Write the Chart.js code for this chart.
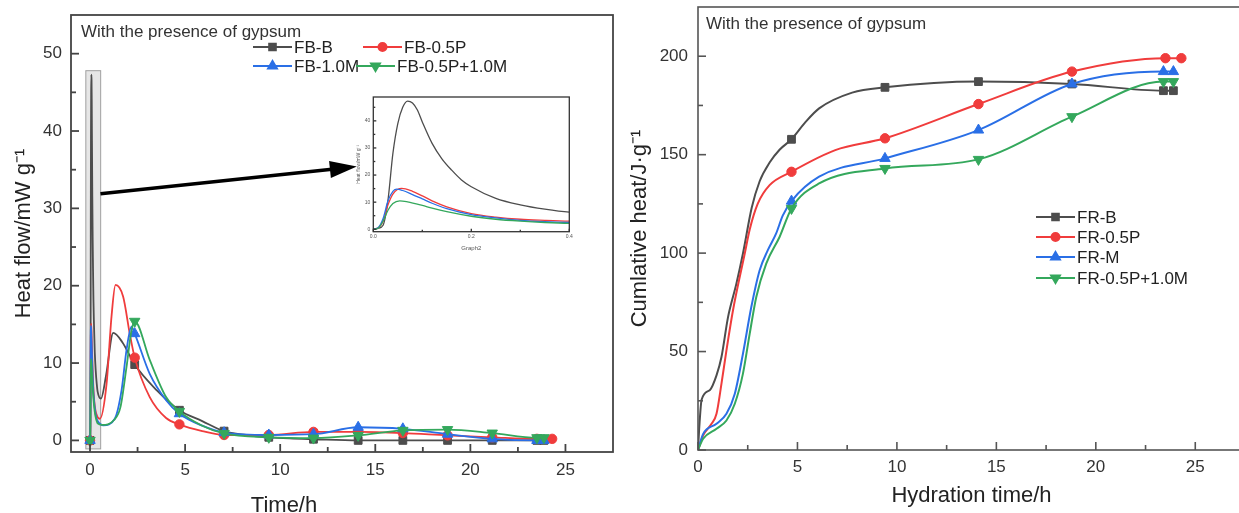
<!DOCTYPE html>
<html>
<head>
<meta charset="utf-8">
<script src="https://cdn.jsdelivr.net/npm/chart.js@4.4.1/dist/chart.umd.min.js"></script>
<style>
  html, body { margin: 0; padding: 0; background: #fff; overflow: hidden; }
  #page { position: relative; width: 1239px; height: 513px; overflow: hidden; }
  .box { position: absolute; top: 0; }
  #flowBox { left: 0; }
  #insetBox { left: 340px; top: 90px; }
  #cumBox { left: 620px; }
</style>
</head>
<body>
<div id="page">
  <div class="box" id="flowBox"><canvas id="flowChart" width="620" height="513"></canvas></div>
  <div class="box" id="insetBox"><canvas id="insetChart" width="240" height="165"></canvas></div>
  <div class="box" id="cumBox"><canvas id="cumChart" width="632" height="513"></canvas></div>
</div>
<script>
const FONT = "'Liberation Sans', Arial, sans-serif";

// ---- heat flow (left panel), time in h, mW/g ----
const fbBTime = [0, 0.01, 0.02, 0.03, 0.04, 0.05, 0.06, 0.07, 0.08, 0.09, 0.1, 0.12, 0.14, 0.16, 0.18, 0.2, 0.25, 0.3, 0.35, 0.4, 0.575, 0.85, 1.22, 1.7, 2.35, 3.5, 4.7, 5.9, 7.05, 8.2, 9.4, 10.5, 11.75, 14.1, 16.45, 18.8, 21.15, 23.5, 23.87];
const fbBFlow = [0, 0.4, 1.5, 10.8, 28, 39, 45, 47.3, 46.6, 44, 39.6, 31.7, 26, 21.8, 18.2, 15.7, 11.4, 9, 7.4, 6.3, 5.4, 8.5, 13.9, 12.7, 9.8, 6.5, 3.9, 2.5, 1.2, 0.7, 0.4, 0.25, 0.15, 0, 0, 0, 0, 0, 0];

const fbPTime = [0, 0.01, 0.02, 0.03, 0.04, 0.058, 0.08, 0.1, 0.12, 0.15, 0.2, 0.25, 0.3, 0.35, 0.4, 0.52, 0.87, 1.13, 1.34, 1.74, 2.09, 2.35, 3.14, 4.0, 4.7, 5.9, 7.05, 9.4, 11.75, 14.1, 16.45, 18.8, 21.15, 23.5, 24.3];
const fbPFlow = [0, 0.5, 3, 9, 13, 15.1, 14, 12.3, 10.5, 8.3, 5.8, 4.5, 3.7, 3.3, 3, 2.8, 7.3, 16, 20.1, 18.6, 13.8, 10.7, 5.6, 2.9, 2.07, 1.2, 0.7, 0.7, 1.1, 1.1, 0.95, 0.65, 0.4, 0.2, 0.2];

const fbMTime = [0, 0.01, 0.02, 0.03, 0.04, 0.048, 0.06, 0.08, 0.1, 0.12, 0.15, 0.2, 0.25, 0.3, 0.35, 0.4, 0.7, 1.3, 1.66, 1.92, 2.18, 2.35, 3.14, 4.0, 4.7, 5.9, 7.05, 9.4, 11.75, 14.1, 16.45, 18.8, 21.15, 23.5, 23.87];
const fbMFlow = [0, 0.6, 4, 10.5, 14, 14.8, 14.3, 12.8, 11.2, 9.6, 7.6, 5.4, 4.2, 3.3, 2.8, 2.5, 1.95, 2.8, 6.5, 11.7, 14.7, 13.8, 8.6, 5.2, 3.45, 1.9, 1.0, 0.7, 0.8, 1.7, 1.5, 0.8, 0.2, 0, 0];

const fbPMTime = [0, 0.01, 0.02, 0.03, 0.04, 0.054, 0.07, 0.1, 0.12, 0.15, 0.2, 0.25, 0.3, 0.35, 0.4, 0.63, 1.25, 1.6, 1.92, 2.18, 2.35, 3.14, 4.0, 4.7, 5.9, 7.05, 9.4, 11.75, 14.1, 16.45, 18.8, 21.15, 23.5, 23.87];
const fbPMFlow = [0, 0.4, 3, 7, 9.5, 10.5, 10.1, 8.8, 7.8, 6.5, 4.8, 3.7, 3, 2.5, 2.2, 2.0, 2.6, 4.3, 9.5, 14.2, 15.4, 10.4, 5.6, 3.75, 1.9, 0.9, 0.4, 0.3, 0.65, 1.3, 1.4, 0.95, 0.35, 0.35];

const flowMarkTimes = [0, 2.35, 4.7, 7.05, 9.4, 11.75, 14.1, 16.45, 18.8, 21.15, 23.5, 23.87, 24.3];
const flowXTicks = [0, 5, 10, 15, 20, 25];
const flowYTicks = [0, 10, 20, 30, 40, 50];
const insetXTicks = [0, 0.2, 0.4];
const insetYTicks = [0, 10, 20, 30, 40];

// ---- cumulative heat (right panel), J/g ----
const frBTime = [0, 0.08, 0.18, 0.6, 0.93, 1.18, 1.51, 1.93, 2.26, 2.7, 3.1, 3.6, 4.1, 4.7, 5.4, 6.09, 7.75, 9.4, 14.1, 18.8, 23.4, 23.9];
const frBHeat = [0, 14, 25.5, 30.5, 37.9, 47.2, 67.5, 84.5, 99.8, 123, 136.5, 146, 152.5, 157.8, 166.5, 173.5, 181.5, 184.2, 187.1, 185.9, 182.5, 182.5];

const frPTime = [0, 0.26, 0.68, 0.93, 1.18, 1.43, 1.76, 2.35, 2.6, 3.0, 3.6, 4.7, 6.9, 9.4, 14.1, 18.8, 23.5, 24.3];
const frPHeat = [0, 7.4, 13.3, 18.4, 33.7, 50.6, 71, 99.8, 112, 125, 134.5, 141.3, 152.3, 158.3, 175.7, 192.2, 199, 199];

const frMTime = [0, 0.26, 0.93, 1.43, 1.85, 2.26, 2.68, 3.1, 3.51, 3.93, 4.26, 4.7, 6.09, 9.4, 14.1, 18.8, 23.4, 23.9];
const frMHeat = [0, 8.2, 13.3, 18.4, 28.6, 48.9, 72.6, 91.3, 101.5, 110, 119, 126.4, 138.8, 148.1, 162.5, 185.9, 192.2, 192.2];

const frPMTime = [0, 0.26, 0.93, 1.43, 1.85, 2.26, 2.6, 2.93, 3.43, 4.1, 4.7, 6.09, 9.4, 14.1, 18.8, 23.4, 23.9];
const frPMHeat = [0, 5.7, 10.8, 15, 23.5, 38.8, 59.1, 77.7, 94.7, 108.2, 122.7, 135.4, 143, 147.6, 169.3, 187.1, 187.1];

const cumMarkTimes = [4.7, 9.4, 14.1, 18.8, 23.4, 23.5, 23.9, 24.3];
const cumXTicks = [0, 5, 10, 15, 20, 25];
const cumYTicks = [0, 50, 100, 150, 200];

// marker look per series (square, circle, up triangle, down triangle)
const seriesStyle = [
  {color: '#4d4d4d', style: 'rect', radius: 5.5, rotation: 0},
  {color: '#f03c3c', style: 'circle', radius: 4.7, rotation: 0},
  {color: '#2a6fe6', style: 'triangle', radius: 6, rotation: 0},
  {color: '#34a85c', style: 'triangle', radius: 6, rotation: 180}
];

function makeSet(label, times, vals, i, marks, width) {
  const st = seriesStyle[i];
  return {
    label: label,
    data: times.map((t, k) => ({x: t, y: vals[k]})),
    borderColor: st.color,
    backgroundColor: st.color,
    borderWidth: width,
    pointStyle: st.style,
    pointRotation: st.rotation,
    pointBackgroundColor: st.color,
    pointBorderColor: st.color,
    pointBorderWidth: 1,
    pointRadius: c => (marks && marks.includes(c.raw.x)) ? st.radius : 0,
    cubicInterpolationMode: 'monotone',
    fill: false,
    order: -i
  };
}

function fixedTicks(arr) {
  return s => { s.ticks = arr.map(v => ({value: v})); };
}

// force axis box size and drop the edge-label padding chart.js adds
function fitBox(w, h) {
  return s => {
    if (w != null) s.width = w;
    if (h != null) s.height = h;
    s.paddingTop = 0; s.paddingBottom = 0; s.paddingLeft = 0; s.paddingRight = 0;
  };
}

// frame, inward ticks, note, legend, arrow, highlight box
const panelDecor = {
  id: 'panelDecor',
  beforeDatasetsDraw(chart, args, o) {
    if (!o.box) return;
    const {ctx, scales: {x, y}} = chart;
    const l = x.getPixelForValue(o.box.x0), r = x.getPixelForValue(o.box.x1);
    const t = y.getPixelForValue(o.box.y1), b = y.getPixelForValue(o.box.y0);
    ctx.save();
    ctx.fillStyle = 'rgba(200,200,200,0.45)';
    ctx.strokeStyle = '#a0a0a0';
    ctx.lineWidth = 1;
    ctx.fillRect(l, t, r - l, b - t);
    ctx.strokeRect(l, t, r - l, b - t);
    ctx.restore();
  },
  afterDatasetsDraw(chart, args, o) {
    const {ctx, chartArea: a, scales: {x, y}} = chart;
    ctx.save();
    ctx.strokeStyle = o.frameColor;
    ctx.lineWidth = o.frameWidth;
    ctx.strokeRect(a.left, a.top, a.right - a.left, a.bottom - a.top);

    // ticks pointing into the plot
    [[x, true], [y, false]].forEach(([s, horiz]) => {
      const vals = s.ticks.map(t => t.value);
      const step = vals[1] - vals[0];
      const minor = vals.map(v => v + step / 2).concat([vals[0] - step / 2])
        .filter(v => v > s.min + 1e-9 && v < s.max - 1e-9);
      const tick = (v, len) => {
        const p = s.getPixelForValue(v);
        ctx.beginPath();
        if (horiz) { ctx.moveTo(p, a.bottom); ctx.lineTo(p, a.bottom - len); }
        else { ctx.moveTo(a.left, p); ctx.lineTo(a.left + len, p); }
        ctx.stroke();
      };
      vals.forEach(v => tick(v, o.tickLen));
      minor.forEach(v => tick(v, o.minorLen));
    });

    if (o.arrow) {
      const x0 = x.getPixelForValue(o.arrow.from[0]), y0 = y.getPixelForValue(o.arrow.from[1]);
      const x1 = x.getPixelForValue(o.arrow.to[0]), y1 = y.getPixelForValue(o.arrow.to[1]);
      const ang = Math.atan2(y1 - y0, x1 - x0);
      const hl = 27, hw = 8.5;
      const bx = x1 - hl * Math.cos(ang), by = y1 - hl * Math.sin(ang);
      ctx.strokeStyle = '#000';
      ctx.fillStyle = '#000';
      ctx.lineWidth = 3.5;
      ctx.beginPath(); ctx.moveTo(x0, y0); ctx.lineTo(bx + 2 * Math.cos(ang), by + 2 * Math.sin(ang)); ctx.stroke();
      ctx.beginPath();
      ctx.moveTo(x1, y1);
      ctx.lineTo(bx + hw * Math.sin(ang), by - hw * Math.cos(ang));
      ctx.lineTo(bx - hw * Math.sin(ang), by + hw * Math.cos(ang));
      ctx.closePath();
      ctx.fill();
    }

    if (o.note) {
      ctx.fillStyle = '#333';
      ctx.font = '17px ' + FONT;
      ctx.textAlign = 'left';
      ctx.textBaseline = 'middle';
      ctx.fillText(o.note.text, a.left + o.note.dx, a.top + o.note.dy);
    }

    if (o.xTitle) {
      ctx.fillStyle = '#222';
      ctx.font = '22px ' + FONT;
      ctx.textAlign = 'center';
      ctx.textBaseline = 'middle';
      ctx.fillText(o.xTitle.text, o.xTitle.x, o.xTitle.y);
    }

    if (o.legend) {
      ctx.font = '17px ' + FONT;
      ctx.textAlign = 'left';
      ctx.textBaseline = 'middle';
      o.legend.forEach(item => {
        const st = seriesStyle[item.set];
        ctx.strokeStyle = st.color;
        ctx.fillStyle = st.color;
        ctx.lineWidth = 2;
        ctx.beginPath(); ctx.moveTo(item.x, item.y); ctx.lineTo(item.x + 39, item.y); ctx.stroke();
        Chart.helpers.drawPoint(ctx, {pointStyle: st.style, rotation: st.rotation, radius: st.radius * 0.85, borderWidth: 1}, item.x + 19.5, item.y);
        ctx.fillStyle = '#222';
        ctx.fillText(chart.data.datasets[item.set].label, item.x + 41, item.y + 1);
      });
    }
    ctx.restore();
  }
};

const tickFont = {size: 17, family: FONT};

// ---- left panel ----
new Chart(document.getElementById('flowChart'), {
  type: 'line',
  data: {
    datasets: [
      makeSet('FB-B', fbBTime, fbBFlow, 0, flowMarkTimes, 1.8),
      makeSet('FB-0.5P', fbPTime, fbPFlow, 1, flowMarkTimes, 1.8),
      makeSet('FB-1.0M', fbMTime, fbMFlow, 2, flowMarkTimes, 1.8),
      makeSet('FB-0.5P+1.0M', fbPMTime, fbPMFlow, 3, flowMarkTimes, 1.8)
    ]
  },
  options: {
    responsive: false,
    animation: false,
    events: [],
    layout: {padding: {left: 0, top: 15, right: 4, bottom: 0}},
    plugins: {
      legend: {display: false},
      tooltip: {enabled: false},
      panelDecor: {
        frameColor: '#444', frameWidth: 1.8, tickLen: 8, minorLen: 5,
        box: {x0: -0.22, x1: 0.56, y0: -1.1, y1: 47.8},
        arrow: {from: [0.55, 31.9], to: [14.03, 35.4]},
        note: {text: 'With the presence of gypsum', dx: 10, dy: 17},
        xTitle: {text: 'Time/h', x: 284, y: 506},
        legend: [
          {set: 0, x: 253, y: 47}, {set: 1, x: 363, y: 47},
          {set: 2, x: 253, y: 66}, {set: 3, x: 356, y: 66}
        ]
      }
    },
    scales: {
      x: {
        type: 'linear', min: -1, max: 27.5,
        grid: {display: false, drawTicks: false}, border: {display: false},
        afterBuildTicks: fixedTicks(flowXTicks),
        afterFit: fitBox(null, 61),
        ticks: {padding: 8, color: '#333', font: tickFont, maxRotation: 0}
      },
      y: {
        type: 'linear', min: -1.5, max: 55,
        grid: {display: false, drawTicks: false}, border: {display: false},
        afterBuildTicks: fixedTicks(flowYTicks),
        afterFit: fitBox(71, null),
        ticks: {padding: 9, color: '#333', font: tickFont},
        title: {display: true, text: 'Heat flow/mW g\u207B\u00B9', color: '#222',
                font: {size: 22, family: FONT}, padding: {top: 11, bottom: 0}}
      }
    }
  },
  plugins: [panelDecor]
});

// ---- inset (first 0.4 h) ----
new Chart(document.getElementById('insetChart'), {
  type: 'line',
  data: {
    datasets: [
      makeSet('FB-B', fbBTime, fbBFlow, 0, null, 1.3),
      makeSet('FB-0.5P', fbPTime, fbPFlow, 1, null, 1.3),
      makeSet('FB-1.0M', fbMTime, fbMFlow, 2, null, 1.3),
      makeSet('FB-0.5P+1.0M', fbPMTime, fbPMFlow, 3, null, 1.3)
    ]
  },
  options: {
    responsive: false,
    animation: false,
    events: [],
    layout: {padding: {left: 0, top: 7, right: 10.7, bottom: 0}},
    plugins: {
      legend: {display: false},
      tooltip: {enabled: false},
      panelDecor: {frameColor: '#333', frameWidth: 1.3, tickLen: 3, minorLen: 2}
    },
    scales: {
      x: {
        type: 'linear', min: 0, max: 0.4,
        grid: {display: false, drawTicks: false}, border: {display: false},
        afterBuildTicks: fixedTicks(insetXTicks),
        afterFit: fitBox(null, 23.3),
        ticks: {padding: 2, color: '#555', font: {size: 5, family: FONT}, maxRotation: 0,
                callback: v => v.toFixed(1)},
        title: {display: true, text: 'Graph2', color: '#555',
                font: {size: 6, family: FONT}, padding: {top: 0, bottom: 3}}
      },
      y: {
        type: 'linear', min: -0.9, max: 48.8,
        grid: {display: false, drawTicks: false}, border: {display: false},
        afterBuildTicks: fixedTicks(insetYTicks),
        afterFit: fitBox(33.3, null),
        ticks: {padding: 3, color: '#555', font: {size: 5, family: FONT}},
        title: {display: true, text: 'Heat flow/mW g\u207B\u00B9', color: '#555',
                font: {size: 5, family: FONT}, padding: {top: 16, bottom: 0}}
      }
    }
  },
  plugins: [panelDecor]
});

// ---- right panel ----
new Chart(document.getElementById('cumChart'), {
  type: 'line',
  data: {
    datasets: [
      makeSet('FR-B', frBTime, frBHeat, 0, cumMarkTimes, 2),
      makeSet('FR-0.5P', frPTime, frPHeat, 1, cumMarkTimes, 2),
      makeSet('FR-M', frMTime, frMHeat, 2, cumMarkTimes, 2),
      makeSet('FR-0.5P+1.0M', frPMTime, frPMHeat, 3, cumMarkTimes, 2)
    ]
  },
  options: {
    responsive: false,
    animation: false,
    events: [],
    layout: {padding: {left: 0, top: 7, right: 3, bottom: 0}},
    plugins: {
      legend: {display: false},
      tooltip: {enabled: false},
      panelDecor: {
        frameColor: '#555', frameWidth: 1.6, tickLen: 8, minorLen: 5,
        note: {text: 'With the presence of gypsum', dx: 8, dy: 17},
        legend: [
          {set: 0, x: 416, y: 217}, {set: 1, x: 416, y: 237},
          {set: 2, x: 416, y: 257}, {set: 3, x: 416, y: 278}
        ]
      }
    },
    scales: {
      x: {
        type: 'linear', min: 0, max: 27.5,
        grid: {display: false, drawTicks: false}, border: {display: false},
        afterBuildTicks: fixedTicks(cumXTicks),
        afterFit: fitBox(null, 63),
        ticks: {padding: 7, color: '#333', font: tickFont, maxRotation: 0},
        title: {display: true, text: 'Hydration time/h', color: '#222',
                font: {size: 22, family: FONT}, padding: {top: 0, bottom: 4}}
      },
      y: {
        type: 'linear', min: 0, max: 225,
        grid: {display: false, drawTicks: false}, border: {display: false},
        afterBuildTicks: fixedTicks(cumYTicks),
        afterFit: fitBox(78, null),
        ticks: {padding: 10, color: '#333', font: tickFont},
        title: {display: true, text: 'Cumlative heat/J\u00B7g\u207B\u00B9', color: '#222',
                font: {size: 22, family: FONT}, padding: {top: 7, bottom: 0}}
      }
    }
  },
  plugins: [panelDecor]
});
</script>
</body>
</html>
